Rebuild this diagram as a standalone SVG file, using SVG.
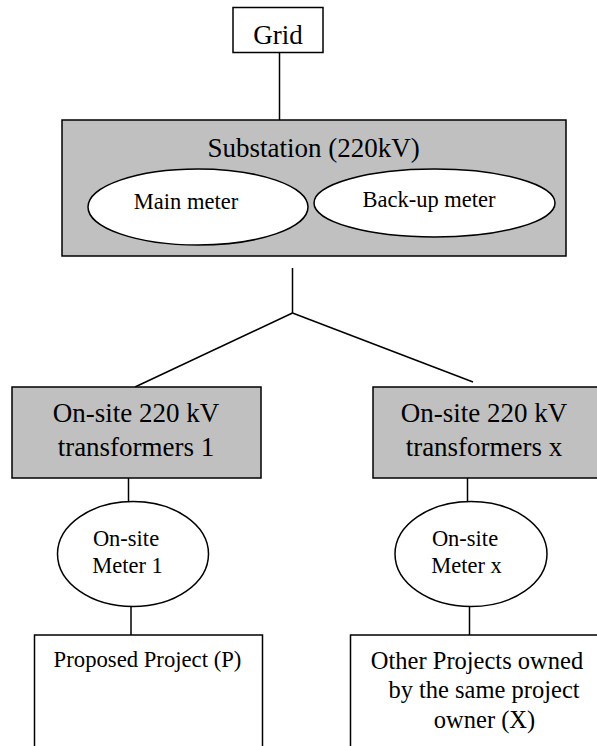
<svg xmlns="http://www.w3.org/2000/svg" width="597" height="746" viewBox="0 0 597 746">
<style>
  .box { stroke: #000; stroke-width: 1.5; }
  .gray { fill: #c0c0c0; }
  .white { fill: #fff; }
  .t { font-family: "Liberation Serif", "Times New Roman", serif; fill: #000; text-anchor: middle; }
  .conn line { stroke: #000; stroke-width: 1.5; }
</style>
<rect width="597" height="746" fill="#fff"/>
<g id="connectors" class="conn">
  <line x1="279.5" y1="53" x2="279.5" y2="120"/>
  <line x1="292.5" y1="268" x2="292.5" y2="313"/>
  <line x1="292.5" y1="313" x2="135" y2="387"/>
  <line x1="292.5" y1="313" x2="473" y2="382"/>
  <line x1="128.5" y1="478" x2="128.5" y2="502"/>
  <line x1="131" y1="607" x2="131" y2="635"/>
  <line x1="467.5" y1="478" x2="467.5" y2="502"/>
  <line x1="469.5" y1="607" x2="469.5" y2="635"/>
</g>
<g id="grid">
  <rect class="box white" x="233" y="7.5" width="90" height="45"/>
  <text class="t" x="278" y="43.5" font-size="27">Grid</text>
</g>
<g id="substation">
  <rect class="box gray" x="62" y="120" width="504" height="136"/>
  <text class="t" x="313.5" y="156.5" font-size="27">Substation (220kV)</text>
</g>
<g id="main-meter">
  <ellipse class="box white" cx="198" cy="207" rx="110" ry="38"/>
  <text class="t" x="186" y="209" font-size="22.5">Main meter</text>
</g>
<g id="backup-meter">
  <ellipse class="box white" cx="434.5" cy="203" rx="120.5" ry="34"/>
  <text class="t" x="429" y="207" font-size="22.5">Back-up meter</text>
</g>
<g id="transformers-1">
  <rect class="box gray" x="12" y="387" width="249" height="91"/>
  <text class="t" x="136" y="421.5" font-size="27">On-site 220 kV</text>
  <text class="t" x="136" y="456" font-size="27">transformers 1</text>
</g>
<g id="transformers-x">
  <rect class="box gray" x="373" y="387" width="249" height="91"/>
  <text class="t" x="484" y="421.5" font-size="27">On-site 220 kV</text>
  <text class="t" x="484" y="456" font-size="27">transformers x</text>
</g>
<g id="meter-1">
  <ellipse class="box white" cx="133" cy="554" rx="75.5" ry="52.5"/>
  <text class="t" x="126" y="545.5" font-size="22.5">On-site</text>
  <text class="t" x="127.5" y="572.5" font-size="22.5">Meter 1</text>
</g>
<g id="meter-x">
  <ellipse class="box white" cx="471" cy="554" rx="76" ry="52.5"/>
  <text class="t" x="465" y="545.5" font-size="22.5">On-site</text>
  <text class="t" x="466.5" y="572.5" font-size="22.5">Meter x</text>
</g>
<g id="proposed-project">
  <rect class="box white" x="34.5" y="635" width="228" height="130"/>
  <text class="t" x="147.5" y="666.5" font-size="22.7">Proposed Project (P)</text>
</g>
<g id="other-projects">
  <rect class="box white" x="350.5" y="635" width="270" height="130"/>
  <text class="t" x="477" y="669" font-size="24.5">Other Projects owned</text>
  <text class="t" x="484" y="698" font-size="24.5">by the same project</text>
  <text class="t" x="484.5" y="728" font-size="24.5">owner (X)</text>
</g>
</svg>
